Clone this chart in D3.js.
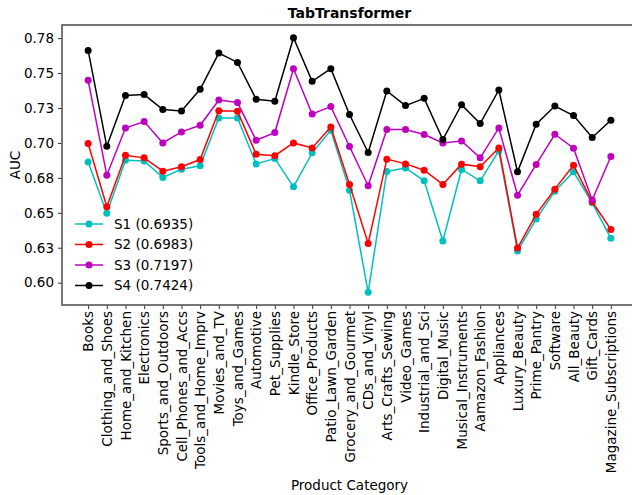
<!DOCTYPE html>
<html>
<head>
<meta charset="utf-8">
<script src="https://cdn.jsdelivr.net/npm/d3@7"></script>
<style>
  body { margin: 0; background: #fff; }
  svg { font-family: "DejaVu Sans", sans-serif; }
</style>
</head>
<body>
<div id="viz"></div>
<script>
const width = 632;
const height = 495;
const margin = { top: 25, right: -5, bottom: 190, left: 62 };

const categories = ['Books', 'Clothing_and_Shoes', 'Home_and_Kitchen', 'Electronics',
  'Sports_and_Outdoors', 'Cell_Phones_and_Accs', 'Tools_and_Home_Imprv', 'Movies_and_TV',
  'Toys_and_Games', 'Automotive', 'Pet_Supplies', 'Kindle_Store', 'Office_Products',
  'Patio_Lawn_Garden', 'Grocery_and_Gourmet', 'CDs_and_Vinyl', 'Arts_Crafts_Sewing',
  'Video_Games', 'Industrial_and_Sci', 'Digital_Music', 'Musical_Instruments',
  'Aamazon_Fashion', 'Appliances', 'Luxury_Beauty', 'Prime_Pantry', 'Software',
  'All_Beauty', 'Gift_Cards', 'Magazine_Subscriptions'];

const s1 = [0.6864, 0.6496, 0.6876, 0.6871, 0.6753, 0.6812, 0.6836, 0.7179, 0.7179, 0.6850,
  0.6888, 0.6686, 0.6929, 0.7091, 0.6662, 0.5931, 0.6796, 0.6821, 0.6729, 0.6298,
  0.6810, 0.6729, 0.6943, 0.6226, 0.6455, 0.6655, 0.6793, 0.6571, 0.6317];
const s2 = [0.6996, 0.6543, 0.6912, 0.6893, 0.6798, 0.6829, 0.6881, 0.7231, 0.7226, 0.6919,
  0.6909, 0.7000, 0.6964, 0.7114, 0.6703, 0.6281, 0.6884, 0.6850, 0.6805, 0.6703,
  0.6848, 0.6829, 0.6964, 0.6248, 0.6489, 0.6669, 0.6841, 0.6579, 0.6381];
const s3 = [0.7448, 0.6769, 0.7107, 0.7153, 0.7000, 0.7079, 0.7126, 0.7307, 0.7289, 0.7019,
  0.7074, 0.7531, 0.7207, 0.7260, 0.6974, 0.6693, 0.7096, 0.7096, 0.7060, 0.7000,
  0.7014, 0.6893, 0.7107, 0.6626, 0.6846, 0.7062, 0.6962, 0.6591, 0.6903];
const s4 = [0.7662, 0.6976, 0.7339, 0.7346, 0.7239, 0.7229, 0.7384, 0.7643, 0.7576, 0.7312,
  0.7298, 0.7753, 0.7441, 0.7531, 0.7203, 0.6931, 0.7372, 0.7267, 0.7319, 0.7024,
  0.7274, 0.7139, 0.7379, 0.6793, 0.7134, 0.7264, 0.7196, 0.7039, 0.7162];

const seriesNames = ['S1 (0.6935)', 'S2 (0.6983)', 'S3 (0.7197)', 'S4 (0.7424)'];
const seriesColors = ['#00bfbf', '#ff0000', '#bf00bf', '#000000'];

const yTicks = [0.600, 0.625, 0.650, 0.675, 0.700, 0.725, 0.750, 0.775];
const yTickLabels = ['0.60', '0.63', '0.65', '0.68', '0.70', '0.73', '0.75', '0.78'];

const series = [s1, s2, s3, s4].map((vals, i) => ({
  name: seriesNames[i], color: seriesColors[i], values: vals
}));

const svg = d3.select('#viz').append('svg')
  .attr('width', width)
  .attr('height', height);

const plotW = width - margin.left - margin.right;
const plotH = height - margin.top - margin.bottom;

const n = categories.length;
// matplotlib style 5% margins on x
const xScale = d3.scaleLinear()
  .domain([-0.05 * (n - 1), (n - 1) * 1.05])
  .range([margin.left, margin.left + plotW]);

const yScale = d3.scaleLinear()
  .domain([0.5840, 0.7844])
  .range([margin.top + plotH, margin.top]);

const g = svg.append('g');

// lines & markers
const line = d3.line()
  .x((d, i) => xScale(i))
  .y(d => yScale(d));

series.forEach(s => {
  g.append('path')
    .attr('d', line(s.values))
    .attr('fill', 'none')
    .attr('stroke', s.color)
    .attr('stroke-width', 1.5);
  g.selectAll(null)
    .data(s.values)
    .join('circle')
    .attr('cx', (d, i) => xScale(i))
    .attr('cy', d => yScale(d))
    .attr('r', 3.5)
    .attr('fill', s.color);
});

// axes
const yAxis = d3.axisLeft(yScale)
  .tickValues(yTicks)
  .tickFormat((d, i) => yTickLabels[i])
  .tickSize(4)
  .tickPadding(4)
  .tickSizeOuter(0);
const yG = svg.append('g')
  .attr('transform', `translate(${margin.left},0)`)
  .call(yAxis);

const xAxis = d3.axisBottom(xScale)
  .tickValues(d3.range(n))
  .tickFormat(i => categories[i])
  .tickSize(4)
  .tickSizeOuter(0);
const xG = svg.append('g')
  .attr('transform', `translate(0,${margin.top + plotH})`)
  .call(xAxis);

xG.selectAll('text')
  .attr('transform', 'rotate(-90)')
  .attr('text-anchor', 'end')
  .attr('dx', '-6')
  .attr('dy', '0.35em')
  .attr('x', 0)
  .attr('y', 0)
  .attr('transform', 'rotate(-90)');

[xG, yG].forEach(ax => {
  ax.selectAll('text').attr('font-size', 13.5).attr('fill', '#000')
    .attr('font-family', '"DejaVu Sans", sans-serif');
  ax.selectAll('line').attr('stroke', '#333').attr('stroke-width', 1);
  ax.select('.domain').remove();
});

// spines
const spine = svg.append('g').attr('fill', 'none').attr('stroke', '#555').attr('stroke-width', 1.6);
spine.append('rect')
  .attr('x', margin.left)
  .attr('y', margin.top)
  .attr('width', plotW)
  .attr('height', plotH);

// title & labels
svg.append('text')
  .attr('x', margin.left + plotW / 2)
  .attr('y', 18)
  .attr('text-anchor', 'middle')
  .attr('font-size', 14)
  .attr('font-weight', 'bold')
  .text('TabTransformer');

svg.append('text')
  .attr('x', margin.left + plotW / 2)
  .attr('y', 490)
  .attr('text-anchor', 'middle')
  .attr('font-size', 13.5)
  .text('Product Category');

svg.append('text')
  .attr('transform', `translate(20,${margin.top + plotH / 2}) rotate(-90)`)
  .attr('text-anchor', 'middle')
  .attr('font-size', 13.5)
  .text('AUC');

// legend
const legend = svg.append('g').attr('transform', 'translate(75,224)');
series.forEach((s, i) => {
  const row = legend.append('g').attr('transform', `translate(0,${i * 20.5})`);
  row.append('line')
    .attr('x1', 0).attr('x2', 28)
    .attr('stroke', s.color).attr('stroke-width', 1.5);
  row.append('circle')
    .attr('cx', 14).attr('r', 3.5).attr('fill', s.color);
  row.append('text')
    .attr('x', 39)
    .attr('dy', '0.35em')
    .attr('font-size', 13.5)
    .text(s.name);
});
</script>
</body>
</html>
